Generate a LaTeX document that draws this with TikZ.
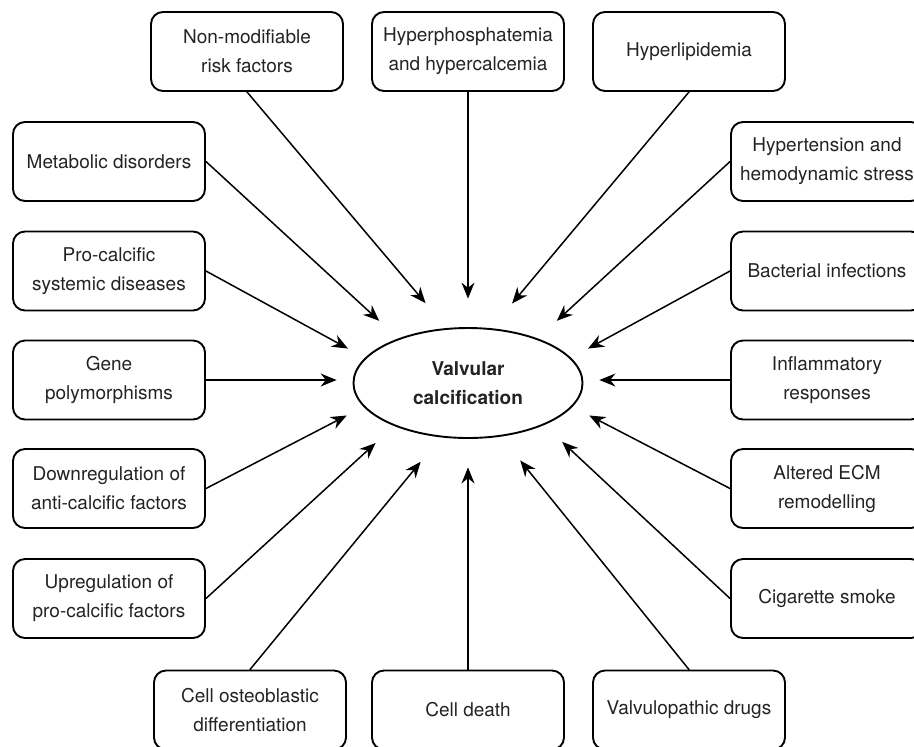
\documentclass[tikz,border=0pt]{standalone}
\usepackage{fontspec}
\setmainfont{TeX Gyre Heros}
\usetikzlibrary{arrows.meta,shapes.geometric}
\definecolor{factorink}{RGB}{35,35,35}

\begin{document}
\begin{tikzpicture}[>={Stealth[length=8pt,width=6.5pt,inset=2.6pt]},x=0.5pt,y=-0.5pt,line cap=round,
  factor/.style={draw,line width=0.95pt,rounded corners=6pt,minimum width=96pt,minimum height=39.5pt,
    inner sep=0pt,align=center,text=factorink,font=\fontsize{9.5}{14.5}\selectfont},
  link/.style={->,line width=0.75pt}]
\useasboundingbox (0,0) rectangle (914,746);
\node[ellipse,draw,line width=0.95pt,minimum width=114.5pt,minimum height=55pt,inner sep=0pt,
  align=center,text=factorink,font=\fontsize{9.5}{14.5}\selectfont\bfseries] (valve) at (468,383)
  {Valvular\\calcification};
\node[ellipse,minimum width=131pt,minimum height=84pt,inner sep=0pt] (halo) at (468,383) {};
\node[factor] (nonmod) at (247,51.5) {Non-modifiable\\risk factors};
\node[factor] (phos) at (468,51.5) {Hyperphosphatemia\\and hypercalcemia};
\node[factor] (lipid) at (689,51.5) {Hyperlipidemia};
\node[factor] (metab) at (109,161.5) {Metabolic disorders};
\node[factor] (systemic) at (109,271) {Pro-calcific\\systemic diseases};
\node[factor] (gene) at (109,380) {Gene\\polymorphisms};
\node[factor] (down) at (109,488.5) {Downregulation of\\anti-calcific factors};
\node[factor] (up) at (109,598.5) {Upregulation of\\pro-calcific factors};
\node[factor] (tension) at (827,161.5) {Hypertension and\\hemodynamic stress};
\node[factor] (bact) at (827,271) {Bacterial infections};
\node[factor] (inflam) at (827,380) {Inflammatory\\responses};
\node[factor] (ecm) at (827,488.5) {Altered ECM\\remodelling};
\node[factor] (smoke) at (827,598.5) {Cigarette smoke};
\node[factor] (osteo) at (250,710) {Cell osteoblastic\\differentiation};
\node[factor] (death) at (468,710) {Cell death};
\node[factor] (drugs) at (689,710) {Valvulopathic drugs};
\draw[link] (nonmod.south) -- (halo.118);
\draw[link] (phos.south) -- (halo.90);
\draw[link] (lipid.south) -- (halo.61);
\draw[link] (metab.east) -- (halo.145);
\draw[link] (systemic.east) -- (halo.164);
\draw[link] (gene.east) -- (gene.east -| halo.west);
\draw[link] (down.east) -- (halo.-165);
\draw[link] (up.east) -- (halo.-147);
\draw[link] (tension.west) -- (halo.35);
\draw[link] (bact.west) -- (halo.16);
\draw[link] (inflam.west) -- (inflam.west -| halo.east);
\draw[link] (ecm.west) -- (halo.-15);
\draw[link] (smoke.west) -- (halo.-32);
\draw[link] (osteo.north) -- (halo.-121);
\draw[link] (death.north) -- (halo.-90);
\draw[link] (drugs.north) -- (halo.-56);
\end{tikzpicture}
\end{document}
